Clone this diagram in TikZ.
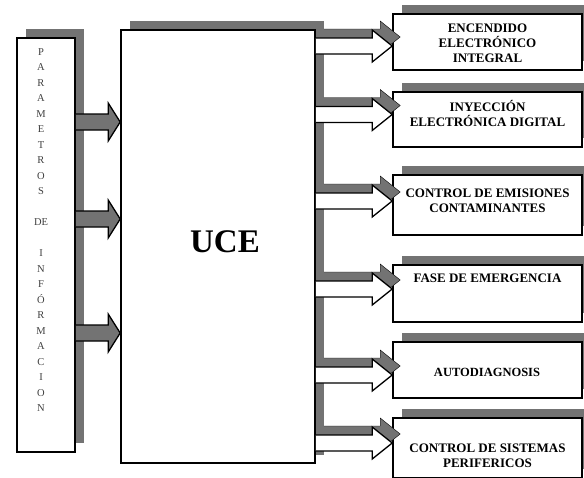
\documentclass[tikz,border=0pt]{standalone}
\usepackage{fontspec}
\setmainfont{Liberation Serif}
\usetikzlibrary{shadows,calc}
\definecolor{shd}{gray}{0.45}
\newcommand\barrow[8]{% #1 style, #2 from, #3 to, #4 y, #5 shaft half, #6 head half, #7 head length, #8 dx
  \draw[#1] let \p1=(#2.east), \p2=(#3.west) in
    ({\x1+#8*1pt},{-(#4-#5)*1pt}) -- ({\x2-#7*1pt+#8*1pt},{-(#4-#5)*1pt})
    -- ({\x2-#7*1pt+#8*1pt},{-(#4-#6)*1pt}) -- ({\x2+#8*1pt},{-#4*1pt})
    -- ({\x2-#7*1pt+#8*1pt},{-(#4+#6)*1pt}) -- ({\x2-#7*1pt+#8*1pt},{-(#4+#5)*1pt})
    -- ({\x1+#8*1pt},{-(#4+#5)*1pt});}
\begin{document}
\begin{tikzpicture}[x=1pt,y=-1pt,
  panel/.style={draw=black, line width=1.6pt, fill=white, inner sep=0pt,
    drop shadow={shadow xshift=9pt, shadow yshift=9pt, opacity=1, fill=shd}},
  outbox/.style={panel, minimum width=189pt},
  lbl/.style={font=\fontsize{13}{15}\selectfont\bfseries, align=center, inner sep=0pt},
  grayarrow/.style={fill=shd, draw=black, line width=1.3pt, line join=miter},
  shadowarrow/.style={fill=shd},
  whitearrow/.style={fill=white, draw=black, line width=1.3pt, line join=miter}]
\useasboundingbox (0,0) rectangle (584,477);
\clip (0,0) rectangle (584,477);
\fill[white] (0,0) rectangle (584,477);

% left column
\node[panel, minimum width=58pt, minimum height=414pt] (param) at (46,245) {};
\node[font=\fontsize{10.5}{15.5}\selectfont, text=black!75, align=center, inner sep=0pt] (ptext) at (41,230)
  {P\\A\\R\\A\\M\\E\\T\\R\\O\\S\\[15.5pt]DE\\[15.5pt]I\\N\\F\\Ó\\R\\M\\A\\C\\I\\O\\N};

% central unit
\node[panel, minimum width=194pt, minimum height=433pt,
  drop shadow={shadow xshift=9pt, shadow yshift=8pt, opacity=1, fill=shd}] (uce) at (218,246.5) {};
\node[font=\fontsize{33}{33}\selectfont\bfseries, inner sep=0pt] (ucetext) at (225,242) {UCE};

% output boxes
\node[outbox, minimum height=56pt] (b1) at (487.5,42) {};
\node[outbox, minimum height=55pt] (b2) at (487.5,119.5) {};
\node[outbox, minimum height=60pt] (b3) at (487.5,205) {};
\node[outbox, minimum height=57pt] (b4) at (487.5,293.5) {};
\node[outbox, minimum height=56pt] (b5) at (487.5,370) {};
\node[outbox, minimum height=60pt] (b6) at (487.5,448) {};

\node[lbl] (t1) at (487.5,43) {ENCENDIDO\\ELECTRÓNICO\\INTEGRAL};
\node[lbl] (t2) at (487.5,113.5) {INYECCIÓN\\ELECTRÓNICA DIGITAL};
\node[lbl] (t3) at (487.5,200.5) {CONTROL DE EMISIONES\\CONTAMINANTES};
\node[lbl] (t4) at (487.5,278) {FASE DE EMERGENCIA};
\node[lbl, font=\fontsize{12.5}{15}\selectfont\bfseries] (t5) at (487,372) {AUTODIAGNOSIS};
\node[lbl] (t6) at (487.5,455.5) {CONTROL DE SISTEMAS\\PERIFERICOS};

% input arrows
\barrow{grayarrow}{param}{uce}{122}{8}{19}{12}{0}
\barrow{grayarrow}{param}{uce}{219}{8}{19}{12}{0}
\barrow{grayarrow}{param}{uce}{333}{8}{19}{12}{0}

% output arrows (shadow, then white arrow)
\barrow{shadowarrow}{uce}{b1}{37}{8}{16}{20}{8}
\barrow{shadowarrow}{uce}{b2}{105.5}{8}{16}{20}{8}
\barrow{shadowarrow}{uce}{b3}{192}{8}{16}{20}{8}
\barrow{shadowarrow}{uce}{b4}{280}{8}{16}{20}{8}
\barrow{shadowarrow}{uce}{b5}{366}{8}{16}{20}{8}
\barrow{shadowarrow}{uce}{b6}{434}{8}{16}{20}{8}

\barrow{whitearrow}{uce}{b1}{46}{8}{16}{20}{0}
\barrow{whitearrow}{uce}{b2}{114.5}{8}{16}{20}{0}
\barrow{whitearrow}{uce}{b3}{201}{8}{16}{20}{0}
\barrow{whitearrow}{uce}{b4}{289}{8}{16}{20}{0}
\barrow{whitearrow}{uce}{b5}{375}{8}{16}{20}{0}
\barrow{whitearrow}{uce}{b6}{443}{8}{16}{20}{0}
\end{tikzpicture}
\end{document}
